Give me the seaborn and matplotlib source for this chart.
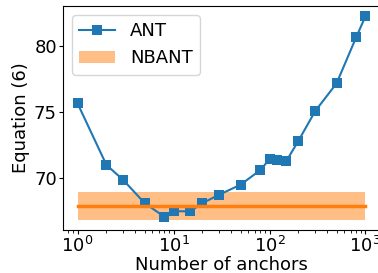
import numpy as np
import pandas as pd
import seaborn as sns
import matplotlib
matplotlib.use("Agg")
import matplotlib.pyplot as plt

# valores
anchors = [1, 2, 3, 5, 8, 10, 15, 20, 30, 50, 80, 100, 120, 150, 200, 300, 500, 800, 1000]
ant = [75.68, 71.0, 69.85, 68.1, 67.07, 67.48, 67.48, 68.1, 68.74, 69.5,
       70.6, 71.43, 71.4, 71.3, 72.83, 75.1, 77.2, 80.7, 82.3]
nbant_mean = 67.9
nbant_low = 66.84
nbant_high = 68.92

df = pd.DataFrame({"anchors": anchors, "ANT": ant})

fs = 13
fig, ax = plt.subplots(figsize=(3.78, 2.73), dpi=100)
fig.subplots_adjust(left=0.167, right=1.005, top=0.978, bottom=0.158)

sns.lineplot(data=df, x="anchors", y="ANT", marker="s", markersize=7,
             markeredgewidth=0, color="#1f77b4", linewidth=1.5, label="ANT", ax=ax)

x_band = [anchors[0], anchors[-1]]
ax.fill_between(x_band, [nbant_low] * 2, [nbant_high] * 2, color="#ff7f0e",
                alpha=0.5, linewidth=0, label="NBANT")
ax.plot(x_band, [nbant_mean] * 2, color="#ff7f0e", linewidth=2.5)

ax.set_xscale("log")
ax.set_xlabel("Number of anchors", fontsize=fs, labelpad=0)
ax.set_ylabel("Equation (6)", fontsize=fs, labelpad=3)
ax.tick_params(labelsize=fs, pad=1.5, length=3)
ax.tick_params(which="minor", length=2)
ax.legend(loc="upper left", fontsize=fs)

plt.savefig("out.png", dpi=100)
